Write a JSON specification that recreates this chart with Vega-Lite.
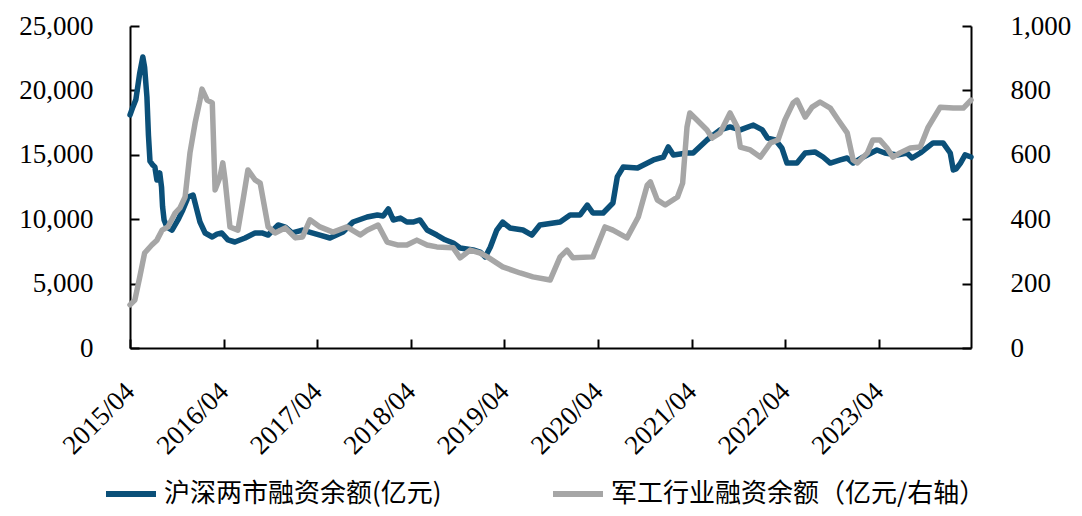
{
  "$schema": "https://vega.github.io/schema/vega-lite/v6.json",
  "width": 841,
  "height": 322,
  "autosize": "none",
  "padding": {"left": 130, "top": 26, "right": 111, "bottom": 168},
  "background": "white",
  "config": {
    "view": {"stroke": null},
    "font": "Liberation Serif",
    "axis": {
      "grid": false,
      "title": null,
      "domainColor": "#000000",
      "domainWidth": 2,
      "tickColor": "#000000",
      "tickWidth": 2,
      "tickSize": -9,
      "labelColor": "#000000",
      "labelFont": "Liberation Serif",
      "labelFontSize": 27,
      "labelOverlap": false,
      "labelFlush": false
    }
  },
  "datasets": {
    "margin": [
      {"d": "2015-04-01", "v": 18090},
      {"d": "2015-04-12", "v": 18700},
      {"d": "2015-04-24", "v": 19300},
      {"d": "2015-05-09", "v": 21350},
      {"d": "2015-05-21", "v": 22600},
      {"d": "2015-05-28", "v": 21800},
      {"d": "2015-06-06", "v": 19500},
      {"d": "2015-06-12", "v": 16500},
      {"d": "2015-06-18", "v": 14500},
      {"d": "2015-06-29", "v": 14200},
      {"d": "2015-07-07", "v": 14050},
      {"d": "2015-07-15", "v": 13040},
      {"d": "2015-07-26", "v": 13590},
      {"d": "2015-08-02", "v": 12500},
      {"d": "2015-08-06", "v": 11000},
      {"d": "2015-08-12", "v": 9940},
      {"d": "2015-08-23", "v": 9390},
      {"d": "2015-09-12", "v": 9160},
      {"d": "2015-10-05", "v": 9940},
      {"d": "2015-10-24", "v": 10710},
      {"d": "2015-11-14", "v": 11720},
      {"d": "2015-12-03", "v": 11880},
      {"d": "2015-12-18", "v": 10710},
      {"d": "2015-12-30", "v": 9780},
      {"d": "2016-01-19", "v": 8930},
      {"d": "2016-02-16", "v": 8620},
      {"d": "2016-03-05", "v": 8840},
      {"d": "2016-03-24", "v": 8930},
      {"d": "2016-04-17", "v": 8390},
      {"d": "2016-05-14", "v": 8230},
      {"d": "2016-06-23", "v": 8540},
      {"d": "2016-08-01", "v": 8930},
      {"d": "2016-08-28", "v": 8930},
      {"d": "2016-09-21", "v": 8770},
      {"d": "2016-10-30", "v": 9550},
      {"d": "2016-11-27", "v": 9390},
      {"d": "2016-12-24", "v": 8930},
      {"d": "2017-02-02", "v": 9160},
      {"d": "2017-04-11", "v": 8770},
      {"d": "2017-05-20", "v": 8540},
      {"d": "2017-07-10", "v": 9010},
      {"d": "2017-08-18", "v": 9780},
      {"d": "2017-10-12", "v": 10170},
      {"d": "2017-11-21", "v": 10330},
      {"d": "2017-12-14", "v": 10250},
      {"d": "2018-01-03", "v": 10800},
      {"d": "2018-01-22", "v": 9940},
      {"d": "2018-02-19", "v": 10090},
      {"d": "2018-03-16", "v": 9780},
      {"d": "2018-04-09", "v": 9780},
      {"d": "2018-05-06", "v": 9940},
      {"d": "2018-06-03", "v": 9160},
      {"d": "2018-07-11", "v": 8770},
      {"d": "2018-08-12", "v": 8400},
      {"d": "2018-09-13", "v": 8150},
      {"d": "2018-10-10", "v": 7760},
      {"d": "2018-11-30", "v": 7610},
      {"d": "2018-12-27", "v": 7450},
      {"d": "2019-01-16", "v": 7070},
      {"d": "2019-02-05", "v": 7840},
      {"d": "2019-03-02", "v": 9160},
      {"d": "2019-03-25", "v": 9780},
      {"d": "2019-04-22", "v": 9320},
      {"d": "2019-06-12", "v": 9160},
      {"d": "2019-07-17", "v": 8770},
      {"d": "2019-08-17", "v": 9550},
      {"d": "2019-11-04", "v": 9780},
      {"d": "2019-12-13", "v": 10330},
      {"d": "2020-01-21", "v": 10330},
      {"d": "2020-02-18", "v": 11100},
      {"d": "2020-03-11", "v": 10480},
      {"d": "2020-04-20", "v": 10480},
      {"d": "2020-05-28", "v": 11260},
      {"d": "2020-06-14", "v": 13280},
      {"d": "2020-07-07", "v": 14050},
      {"d": "2020-09-01", "v": 13980},
      {"d": "2020-11-02", "v": 14600},
      {"d": "2020-12-11", "v": 14830},
      {"d": "2020-12-30", "v": 15610},
      {"d": "2021-01-19", "v": 14990},
      {"d": "2021-03-13", "v": 15140},
      {"d": "2021-04-06", "v": 15140},
      {"d": "2021-05-30", "v": 16150},
      {"d": "2021-07-20", "v": 16930},
      {"d": "2021-08-28", "v": 17160},
      {"d": "2021-10-07", "v": 16930},
      {"d": "2021-11-27", "v": 17310},
      {"d": "2022-01-01", "v": 16930},
      {"d": "2022-01-21", "v": 16300},
      {"d": "2022-02-21", "v": 16150},
      {"d": "2022-03-18", "v": 15530},
      {"d": "2022-04-07", "v": 14360},
      {"d": "2022-05-16", "v": 14360},
      {"d": "2022-06-17", "v": 15140},
      {"d": "2022-07-25", "v": 15220},
      {"d": "2022-08-26", "v": 14830},
      {"d": "2022-09-23", "v": 14360},
      {"d": "2022-11-01", "v": 14600},
      {"d": "2022-11-28", "v": 14750},
      {"d": "2022-12-21", "v": 14360},
      {"d": "2023-01-30", "v": 14830},
      {"d": "2023-03-24", "v": 15370},
      {"d": "2023-04-24", "v": 15140},
      {"d": "2023-06-11", "v": 14990},
      {"d": "2023-07-19", "v": 15140},
      {"d": "2023-08-08", "v": 14750},
      {"d": "2023-09-09", "v": 15140},
      {"d": "2023-10-29", "v": 15920},
      {"d": "2023-12-07", "v": 15920},
      {"d": "2024-01-04", "v": 15140},
      {"d": "2024-01-16", "v": 13820},
      {"d": "2024-01-27", "v": 13900},
      {"d": "2024-02-13", "v": 14360},
      {"d": "2024-03-02", "v": 14990},
      {"d": "2024-03-25", "v": 14830}
    ],
    "defense": [
      {"d": "2015-04-01", "v": 134},
      {"d": "2015-04-20", "v": 149},
      {"d": "2015-05-09", "v": 220},
      {"d": "2015-05-28", "v": 295},
      {"d": "2015-06-25", "v": 320},
      {"d": "2015-07-15", "v": 335},
      {"d": "2015-08-04", "v": 366},
      {"d": "2015-08-27", "v": 376},
      {"d": "2015-09-24", "v": 419},
      {"d": "2015-10-13", "v": 435},
      {"d": "2015-11-02", "v": 469},
      {"d": "2015-11-21", "v": 606},
      {"d": "2015-12-11", "v": 699},
      {"d": "2015-12-30", "v": 770},
      {"d": "2016-01-07", "v": 804},
      {"d": "2016-01-27", "v": 770},
      {"d": "2016-02-16", "v": 761},
      {"d": "2016-02-27", "v": 491},
      {"d": "2016-03-17", "v": 531},
      {"d": "2016-03-28", "v": 575},
      {"d": "2016-04-06", "v": 522},
      {"d": "2016-04-25", "v": 376},
      {"d": "2016-05-26", "v": 366},
      {"d": "2016-06-15", "v": 460},
      {"d": "2016-07-04", "v": 553},
      {"d": "2016-08-01", "v": 522},
      {"d": "2016-08-21", "v": 512},
      {"d": "2016-09-21", "v": 376},
      {"d": "2016-10-18", "v": 357},
      {"d": "2016-11-27", "v": 373},
      {"d": "2017-01-05", "v": 342},
      {"d": "2017-02-02", "v": 345},
      {"d": "2017-03-03", "v": 398},
      {"d": "2017-04-11", "v": 376},
      {"d": "2017-06-01", "v": 360},
      {"d": "2017-07-25", "v": 376},
      {"d": "2017-09-15", "v": 351},
      {"d": "2017-10-12", "v": 366},
      {"d": "2017-11-24", "v": 382},
      {"d": "2017-12-29", "v": 329},
      {"d": "2018-02-07", "v": 320},
      {"d": "2018-03-16", "v": 320},
      {"d": "2018-04-24", "v": 335},
      {"d": "2018-06-03", "v": 320},
      {"d": "2018-07-11", "v": 314},
      {"d": "2018-09-13", "v": 311},
      {"d": "2018-10-10", "v": 280},
      {"d": "2018-11-18", "v": 304},
      {"d": "2018-12-27", "v": 295},
      {"d": "2019-01-24", "v": 283},
      {"d": "2019-03-25", "v": 252},
      {"d": "2019-06-01", "v": 233},
      {"d": "2019-07-21", "v": 221},
      {"d": "2019-09-26", "v": 211},
      {"d": "2019-11-04", "v": 283},
      {"d": "2019-12-01", "v": 304},
      {"d": "2019-12-24", "v": 280},
      {"d": "2020-03-11", "v": 283},
      {"d": "2020-04-27", "v": 376},
      {"d": "2020-05-28", "v": 366},
      {"d": "2020-07-22", "v": 342},
      {"d": "2020-09-04", "v": 407},
      {"d": "2020-10-09", "v": 506},
      {"d": "2020-10-21", "v": 516},
      {"d": "2020-11-17", "v": 460},
      {"d": "2020-12-18", "v": 444},
      {"d": "2021-02-04", "v": 469},
      {"d": "2021-02-24", "v": 512},
      {"d": "2021-03-13", "v": 686},
      {"d": "2021-03-24", "v": 730},
      {"d": "2021-04-21", "v": 708},
      {"d": "2021-05-30", "v": 677},
      {"d": "2021-06-19", "v": 652},
      {"d": "2021-07-20", "v": 668},
      {"d": "2021-08-28", "v": 730},
      {"d": "2021-09-25", "v": 686},
      {"d": "2021-10-07", "v": 624},
      {"d": "2021-11-15", "v": 615},
      {"d": "2021-12-24", "v": 593},
      {"d": "2022-02-02", "v": 637},
      {"d": "2022-03-03", "v": 646},
      {"d": "2022-03-30", "v": 708},
      {"d": "2022-05-01", "v": 761},
      {"d": "2022-05-16", "v": 770},
      {"d": "2022-06-17", "v": 717},
      {"d": "2022-07-14", "v": 748},
      {"d": "2022-08-14", "v": 764},
      {"d": "2022-09-23", "v": 745},
      {"d": "2022-10-24", "v": 708},
      {"d": "2022-11-28", "v": 668},
      {"d": "2022-12-21", "v": 584},
      {"d": "2023-01-07", "v": 575},
      {"d": "2023-02-15", "v": 606},
      {"d": "2023-03-08", "v": 646},
      {"d": "2023-04-05", "v": 646},
      {"d": "2023-05-02", "v": 621},
      {"d": "2023-05-25", "v": 593},
      {"d": "2023-06-22", "v": 606},
      {"d": "2023-08-01", "v": 621},
      {"d": "2023-09-09", "v": 624},
      {"d": "2023-10-10", "v": 686},
      {"d": "2023-11-26", "v": 748},
      {"d": "2024-01-16", "v": 745},
      {"d": "2024-02-24", "v": 745},
      {"d": "2024-03-25", "v": 770}
    ]
  },
  "layer": [
    {
      "data": {"name": "margin"},
      "mark": {"type": "line", "strokeWidth": 5.5, "strokeJoin": "round", "strokeCap": "round"},
      "encoding": {
        "x": {
          "field": "d",
          "type": "temporal",
          "scale": {"type": "utc", "domain": [{"year": 2015, "month": 4, "date": 1, "utc": true}, {"year": 2024, "month": 3, "date": 25, "utc": true}]},
          "axis": {
            "values": [
              {"year": 2015, "month": 4, "date": 1, "utc": true},
              {"year": 2016, "month": 4, "date": 1, "utc": true},
              {"year": 2017, "month": 4, "date": 1, "utc": true},
              {"year": 2018, "month": 4, "date": 1, "utc": true},
              {"year": 2019, "month": 4, "date": 1, "utc": true},
              {"year": 2020, "month": 4, "date": 1, "utc": true},
              {"year": 2021, "month": 4, "date": 1, "utc": true},
              {"year": 2022, "month": 4, "date": 1, "utc": true},
              {"year": 2023, "month": 4, "date": 1, "utc": true}
            ],
            "labelExpr": "utcFormat(datum.value, '%Y/%m')",
            "labelAngle": -45,
            "labelAlign": "right",
            "labelBaseline": "middle",
            "labelPadding": 48
          }
        },
        "y": {
          "field": "v",
          "type": "quantitative",
          "scale": {"domain": [0, 25000]},
          "axis": {"orient": "left", "values": [0, 5000, 10000, 15000, 20000, 25000], "labelExpr": "format(datum.value, ',d')", "labelPadding": 46}
        },
        "color": {
          "datum": "沪深两市融资余额(亿元)",
          "type": "nominal",
          "scale": {"domain": ["沪深两市融资余额(亿元)", "军工行业融资余额（亿元/右轴）"], "range": ["#0b5079", "#a6a6a6"]},
          "legend": {
            "title": null,
            "orient": "none",
            "legendX": -27,
            "legendY": 440,
            "direction": "horizontal",
            "symbolType": "stroke",
            "symbolSize": 2500,
            "symbolStrokeWidth": 6,
            "labelFont": "Noto Sans CJK SC",
            "labelFontSize": 26,
            "labelColor": "#000000",
            "labelLimit": 600,
            "labelOffset": 5,
            "columnPadding": 99
          }
        }
      }
    },
    {
      "data": {"name": "defense"},
      "mark": {"type": "line", "strokeWidth": 5.5, "strokeJoin": "round", "strokeCap": "round"},
      "encoding": {
        "x": {"field": "d", "type": "temporal"},
        "y": {
          "field": "v",
          "type": "quantitative",
          "scale": {"domain": [0, 1000]},
          "axis": {"orient": "right", "values": [0, 200, 400, 600, 800, 1000], "labelExpr": "format(datum.value, ',d')", "labelPadding": 48}
        },
        "color": {"datum": "军工行业融资余额（亿元/右轴）", "type": "nominal"}
      }
    }
  ],
  "resolve": {"scale": {"y": "independent"}}
}
